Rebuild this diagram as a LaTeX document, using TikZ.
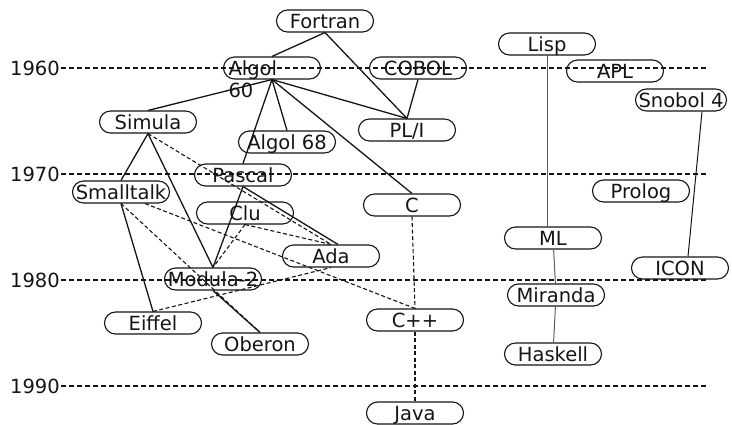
\documentclass[tikz,border=0pt]{standalone}
\usepackage{fontspec}
\setmainfont{DejaVu Sans}
\usepackage{tikz}
\usetikzlibrary{positioning}
\definecolor{ink}{RGB}{20,20,25}
\definecolor{thread}{RGB}{95,95,95}

\begin{document}
\begin{tikzpicture}[x=1pt, y=-1pt,
  lang/.style={draw=ink, rounded corners=11pt, line width=1.1pt, minimum width=97pt, minimum height=22pt,
    inner sep=3pt, text height=14pt, text depth=0pt, font=\fontsize{19.5}{22}\selectfont, text=ink},
  yrlab/.style={anchor=east, inner sep=1pt, font=\fontsize{19.5}{22}\selectfont, text=ink},
  yr/.style={ink, line width=1.3pt, dash pattern=on 5pt off 3pt},
  heir/.style={ink, line width=1.3pt},
  infl/.style={ink, line width=1.1pt, dash pattern=on 4pt off 2.5pt},
  thin/.style={thread, line width=1pt}]
\useasboundingbox (0,0) rectangle (732,424);
% decades
\foreach \yr/\y in {1960/68, 1970/174, 1980/280, 1990/386} {
  \node[yrlab] (y\yr) at (61,\y) {\yr};
  \coordinate (e\yr) at (709,\y);
  \draw[yr] (y\yr.east) -- (e\yr);
}
% languages
\node[lang] (fortran) at (325,21) {Fortran};
\node[lang, text width=87pt, align=left] (algol) at (272,68) {Algol\\60};
\node[lang] (cobol) at (418,68) {COBOL};
\node[lang] (lisp) at (547,44) {Lisp};
\node[lang] (apl) at (615,71) {APL};
\node[lang, minimum width=90pt] (snobol) at (681,100) {Snobol 4};
\node[lang] (simula) at (148,122) {Simula};
\node[lang] (algolb) at (287,142) {Algol 68};
\node[lang] (pli) at (407,130) {PL/I};
\node[lang] (pascal) at (243,175) {Pascal};
\node[lang] (smalltalk) at (121,192) {Smalltalk};
\node[lang] (prolog) at (641,191) {Prolog};
\node[lang] (c) at (412,205) {C};
\node[lang] (clu) at (245,213) {Clu};
\node[lang] (ml) at (553,238) {ML};
\node[lang] (ada) at (331,256) {Ada};
\node[lang] (icon) at (680,268) {ICON};
\node[lang] (modula) at (213,279) {Modula-2};
\node[lang] (miranda) at (556,295) {Miranda};
\node[lang] (eiffel) at (153,323) {Eiffel};
\node[lang] (cpp) at (415,320) {C++};
\node[lang] (oberon) at (260,344) {Oberon};
\node[lang] (haskell) at (553,354) {Haskell};
\node[lang] (java) at (415,413) {Java};
% descent and influence
\draw[heir] (fortran.south) -- (algol.north);
\draw[heir] (fortran.south) -- (pli.north);
\draw[heir] (cobol.south) -- (pli.north);
\foreach \n in {simula, algolb, pascal, pli, c}
  \draw[heir] (algol.south) -- (\n.north);
\draw[heir] (simula.south) -- (smalltalk.north);
\draw[heir] (simula.south) -- (modula.north);
\draw[infl] (simula.south) -- (ada.north);
\draw[heir] (pascal.south) -- (modula.north);
\draw[heir] (pascal.south) -- ([xshift=7pt]ada.north);
\draw[infl] (clu.south) -- (modula.north);
\draw[infl] (clu.south) -- (ada.north);
\draw[heir] (smalltalk.south) -- (eiffel.north);
\draw[infl] (smalltalk.south) -- (oberon.north);
\draw[infl] ([xshift=24pt]smalltalk.south) -- (cpp.north);
\draw[infl] (eiffel.north) -- (ada.south);
\draw[heir] (modula.south) -- (oberon.north);
\draw[infl] (c.south) -- (cpp.north);
\draw[infl] (cpp.south) -- (java.north);
\draw[thin] (lisp.south) -- (lisp.south |- ml.north);
\draw[thin] (ml) -- (miranda);
\draw[thin] (miranda) -- (haskell);
\draw[heir, line width=1pt] ([xshift=21pt]snobol.south) -- ([xshift=8pt]icon.north);
\end{tikzpicture}
\end{document}
